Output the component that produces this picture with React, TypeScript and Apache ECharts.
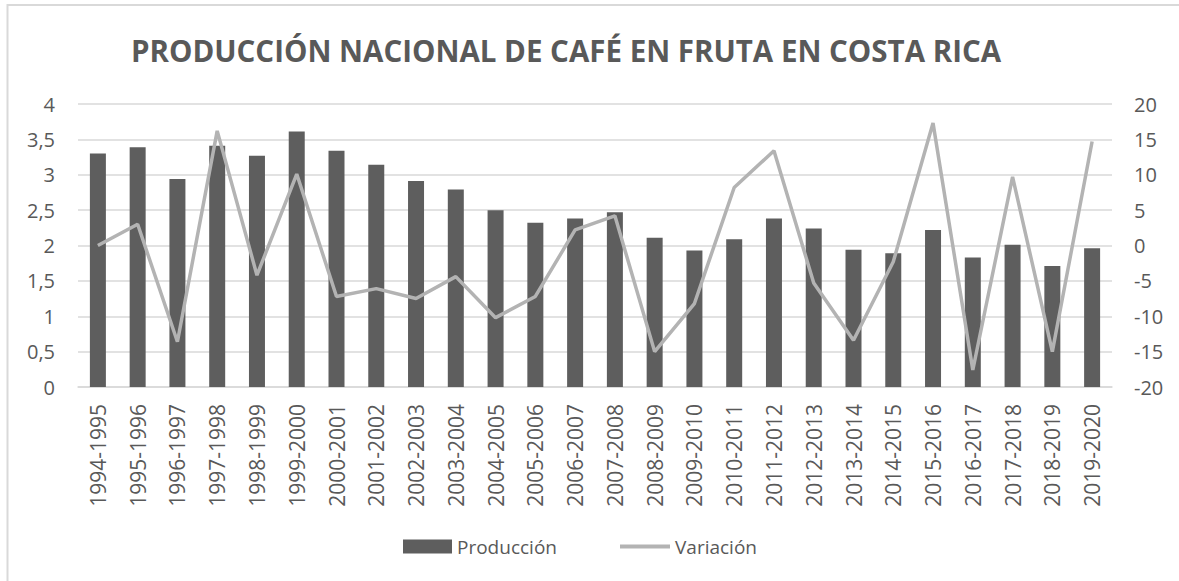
import React, { useEffect, useRef } from "react";
import * as echarts from "echarts";

const categories = [
  "1994-1995", "1995-1996", "1996-1997", "1997-1998", "1998-1999", "1999-2000",
  "2000-2001", "2001-2002", "2002-2003", "2003-2004", "2004-2005", "2005-2006",
  "2006-2007", "2007-2008", "2008-2009", "2009-2010", "2010-2011", "2011-2012",
  "2012-2013", "2013-2014", "2014-2015", "2015-2016", "2016-2017", "2017-2018",
  "2018-2019", "2019-2020",
];

const produccion = [
  3.30, 3.39, 2.94, 3.41, 3.27, 3.61, 3.34, 3.14, 2.91, 2.79, 2.50, 2.32, 2.38,
  2.47, 2.11, 1.93, 2.09, 2.38, 2.24, 1.94, 1.89, 2.22, 1.83, 2.01, 1.71, 1.96,
];

const variacion = [
  0.0, 3.0, -13.6, 16.2, -4.2, 10.1, -7.2, -6.1, -7.5, -4.4, -10.2, -7.2, 2.2,
  4.2, -15.0, -8.2, 8.2, 13.4, -5.3, -13.4, -2.3, 17.3, -17.6, 9.7, -15.0, 14.7,
];

const title = "PRODUCCIÓN NACIONAL DE CAFÉ EN FRUTA EN COSTA RICA";
const FONT = "'Open Sans', sans-serif";
const TXT = "#595959";
const BAR = "#5e5e5e";
const LINE = "#b3b3b3";

export default function App() {
  const ref = useRef<HTMLDivElement>(null);
  useEffect(() => {
    if (!ref.current) return;
    const chart = echarts.init(ref.current, null, { renderer: "svg" });
    chart.setOption({
      animation: false,
      backgroundColor: "#ffffff",
      textStyle: { fontFamily: FONT },
      graphic: [
        {
          type: "rect",
          shape: { x: 7.5, y: 5, width: 1300, height: 700 },
          style: { fill: "none", stroke: "#d9d9d9", lineWidth: 2 },
          silent: true,
        },
        {
          type: "text",
          x: 566,
          y: 50,
          style: {
            text: title,
            fontFamily: FONT,
            fontWeight: "bold",
            fontSize: 29.5,
            fill: TXT,
            textAlign: "center",
            textVerticalAlign: "middle",
          },
        },
      ],
      legend: [
        {
          data: ["Producción"],
          left: 398,
          top: 532,
          itemWidth: 49,
          itemHeight: 14,
          icon: "rect",
          textStyle: { color: TXT, fontSize: 19, fontFamily: FONT },
        },
        {
          data: ["Variación"],
          left: 615,
          top: 532,
          itemWidth: 50,
          itemHeight: 4,
          icon: "rect",
          itemStyle: { color: LINE },
          textStyle: { color: TXT, fontSize: 19, fontFamily: FONT },
        },
      ],
      grid: { left: 78, right: 67, top: 104, bottom: 194, containLabel: false },
      xAxis: {
        type: "category",
        data: categories,
        axisLine: { show: true, lineStyle: { color: "#d9d9d9", width: 1.5 } },
        axisTick: { show: false },
        axisLabel: {
          rotate: 90,
          interval: 0,
          margin: 17,
          color: TXT,
          fontSize: 21,
          fontFamily: FONT,
        },
      },
      yAxis: [
        {
          type: "value",
          min: 0,
          max: 4,
          interval: 0.5,
          axisLine: { show: false },
          axisTick: { show: false },
          splitLine: { lineStyle: { color: "#d9d9d9", width: 1.5 } },
          axisLabel: {
            color: TXT,
            fontSize: 20,
            fontFamily: FONT,
            margin: 23,
            formatter: (v: number) => String(v).replace(".", ","),
          },
        },
        {
          type: "value",
          min: -20,
          max: 20,
          interval: 5,
          axisLine: { show: false },
          axisTick: { show: false },
          splitLine: { show: false },
          axisLabel: { color: TXT, fontSize: 20, fontFamily: FONT, margin: 22 },
        },
      ],
      series: [
        {
          name: "Producción",
          type: "bar",
          data: produccion,
          barWidth: 16,
          itemStyle: { color: BAR },
          yAxisIndex: 0,
        },
        {
          name: "Variación",
          type: "line",
          data: variacion,
          yAxisIndex: 1,
          symbol: "none",
          lineStyle: { color: LINE, width: 3.5 },
          itemStyle: { color: LINE },
        },
      ],
    });
    return () => chart.dispose();
  }, []);
  return (
    <div
      ref={ref}
      style={{ position: "absolute", left: 0, top: 0, width: 1179, height: 581 }}
    />
  );
}
